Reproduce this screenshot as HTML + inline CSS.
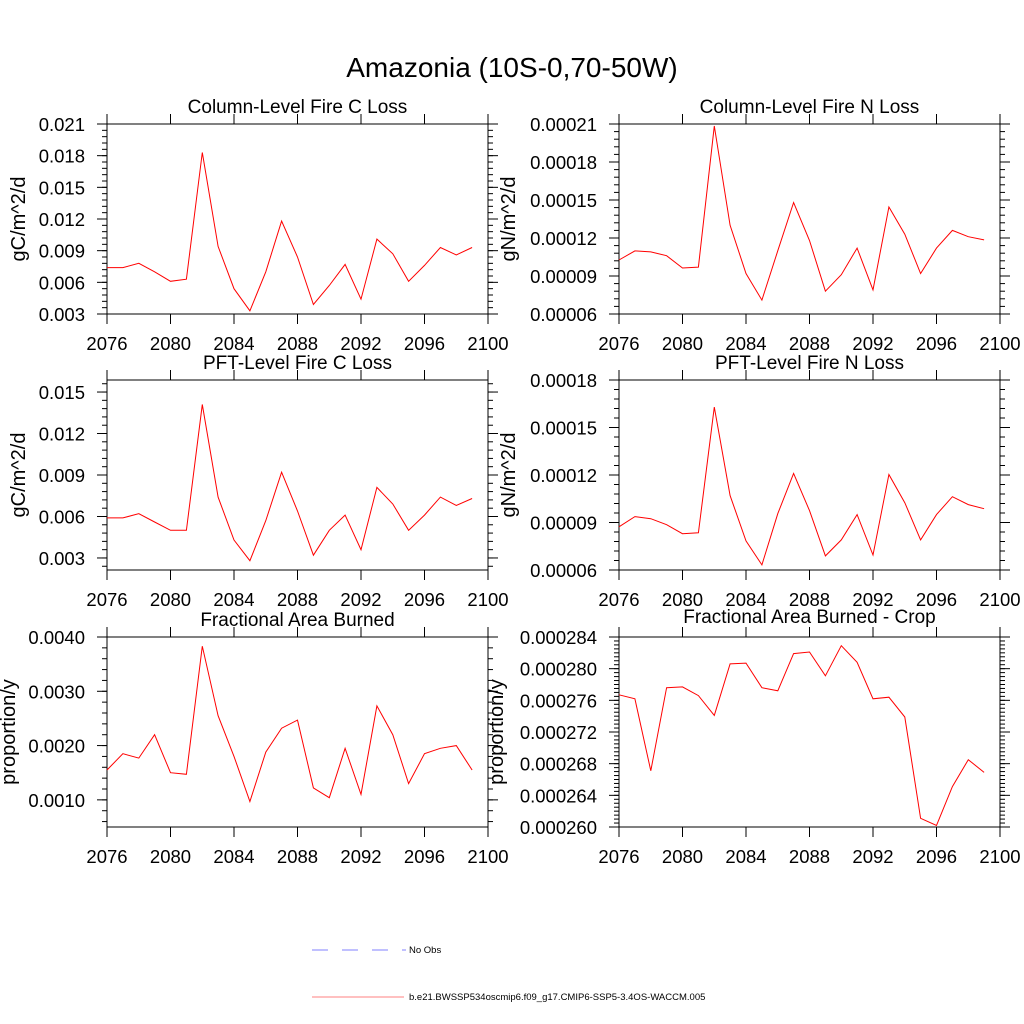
<!DOCTYPE html>
<html><head><meta charset="utf-8"><style>
html,body{margin:0;padding:0;background:#fff;}
svg{display:block;font-family:"Liberation Sans",sans-serif;}
</style></head><body>
<svg id="chart" width="1024" height="1024" viewBox="0 0 1024 1024" xmlns="http://www.w3.org/2000/svg">
<rect width="1024" height="1024" fill="#fff"/>
<text x="512" y="77" font-size="28" text-anchor="middle">Amazonia (10S-0,70-50W)</text>
<g>
<line x1="312" y1="950" x2="406" y2="950" stroke="#8080ff" stroke-width="1" stroke-dasharray="16,14"/>
<text x="409" y="953" font-size="9.5">No Obs</text>
<line x1="312" y1="997" x2="404" y2="997" stroke="#ff8080" stroke-width="1"/>
<text x="409" y="1000" font-size="9.5">b.e21.BWSSP534oscmip6.f09_g17.CMIP6-SSP5-3.4OS-WACCM.005</text>
</g>
</svg>
<script>
const years = [2076,2077,2078,2079,2080,2081,2082,2083,2084,2085,2086,2087,2088,2089,2090,2091,2092,2093,2094,2095,2096,2097,2098,2099];
const xTicks = [2076,2080,2084,2088,2092,2096,2100];
const colCLoss = [0.0074,0.0074,0.0078,0.0070,0.0061,0.0063,0.0183,0.0094,0.0054,0.0033,0.0070,0.0118,0.0084,0.0039,0.0057,0.0077,0.0044,0.0101,0.0087,0.0061,0.0076,0.0093,0.0086,0.0093];
const colNLoss = [0.0001026,0.0001098,0.000109,0.000106,0.0000963,0.000097,0.0002084,0.00013,0.000092,0.000071,0.00011,0.000148,0.000118,0.000078,0.000091,0.000112,0.000079,0.0001445,0.000123,0.000092,0.000112,0.000126,0.000121,0.0001185];
const pftCLoss = [0.0059,0.0059,0.0062,0.0056,0.0050,0.0050,0.0141,0.0074,0.0043,0.0028,0.0057,0.0092,0.0064,0.0032,0.0050,0.0061,0.0036,0.0081,0.0069,0.0050,0.0061,0.0074,0.0068,0.0073];
const pftNLoss = [0.0000873,0.0000937,0.0000924,0.0000886,0.0000829,0.0000835,0.0001629,0.000107,0.0000784,0.0000632,0.0000956,0.000121,0.0000975,0.0000689,0.000079,0.000095,0.0000695,0.0001203,0.0001025,0.000079,0.000095,0.0001063,0.0001013,0.0000987];
const areaBurned = [0.00155,0.00185,0.00177,0.0022,0.0015,0.00147,0.00383,0.00255,0.0018,0.00097,0.00188,0.00232,0.00247,0.00122,0.00104,0.00195,0.0011,0.00273,0.0022,0.0013,0.00185,0.00195,0.0020,0.00155];
const areaBurnedCrop = [0.0002767,0.0002762,0.0002671,0.0002776,0.0002777,0.0002766,0.0002741,0.0002806,0.0002807,0.0002776,0.0002772,0.0002819,0.0002821,0.0002791,0.0002829,0.0002808,0.0002762,0.0002764,0.0002739,0.0002611,0.0002602,0.0002651,0.0002685,0.0002669];
const yTicks1 = ["0.003","0.006","0.009","0.012","0.015","0.018","0.021"];
const yTicks2 = ["0.00006","0.00009","0.00012","0.00015","0.00018","0.00021"];
const yTicks3 = ["0.003","0.006","0.009","0.012","0.015"];
const yTicks4 = ["0.00006","0.00009","0.00012","0.00015","0.00018"];
const yTicks5 = ["0.0010","0.0020","0.0030","0.0040"];
const yTicks6 = ["0.000260","0.000264","0.000268","0.000272","0.000276","0.000280","0.000284"];

const NS="http://www.w3.org/2000/svg";
const svg=document.getElementById('chart');
function mk(tag,attrs,parent){const e=document.createElementNS(NS,tag);for(const k in attrs)e.setAttribute(k,attrs[k]);(parent||svg).appendChild(e);return e;}

const panels=[
 {name:'column-fire-c-loss',title:'Column-Level Fire C Loss',ytitle:'gC/m^2/d',x0:107,y0:124,ymin:0.003,ymax:0.021,ticks:yTicks1,minor:0.0006,data:colCLoss,titleY:113,yx:18},
 {name:'column-fire-n-loss',title:'Column-Level Fire N Loss',ytitle:'gN/m^2/d',x0:619,y0:124,ymin:0.00006,ymax:0.00021,ticks:yTicks2,minor:0.000006,data:colNLoss,titleY:113,yx:508},
 {name:'pft-fire-c-loss',title:'PFT-Level Fire C Loss',ytitle:'gC/m^2/d',x0:107,y0:380,ymin:0.00213,ymax:0.01587,ticks:yTicks3,minor:0.0006,data:pftCLoss,titleY:369,yx:18},
 {name:'pft-fire-n-loss',title:'PFT-Level Fire N Loss',ytitle:'gN/m^2/d',x0:619,y0:380,ymin:0.00006,ymax:0.00018,ticks:yTicks4,minor:0.000006,data:pftNLoss,titleY:369,yx:508},
 {name:'fractional-area-burned',title:'Fractional Area Burned',ytitle:'proportion/y',x0:107,y0:637,ymin:0.0005,ymax:0.0040,ticks:yTicks5,minor:0.0002,data:areaBurned,titleY:626,yx:8},
 {name:'fractional-area-burned-crop',title:'Fractional Area Burned - Crop',ytitle:'proportion/y',x0:619,y0:637,ymin:0.000260,ymax:0.000284,ticks:yTicks6,minor:0.0000005,data:areaBurnedCrop,titleY:623,yx:496}
];
const W=381,H=190;
panels.forEach(p=>{
 const g=mk('g',{});
 
 
 const xs=v=>p.x0+(v-2076)/(2100-2076)*W;
 const ys=v=>p.y0+H-(v-p.ymin)/(p.ymax-p.ymin)*H;
 const r=mk('rect',{x:p.x0,y:p.y0,width:W,height:H,fill:'none',stroke:'#000','stroke-width':1},g);
 
 
 xTicks.forEach(t=>{
  const x=xs(t);
  mk('line',{x1:x,y1:p.y0+H,x2:x,y2:p.y0+H+10,stroke:'#000'},g);
  mk('line',{x1:x,y1:p.y0,x2:x,y2:p.y0-10,stroke:'#000'},g);
  const tx=mk('text',{x:x,y:p.y0+H+36,'font-size':18.5,'text-anchor':'middle'},g);
  tx.textContent=t;
  
  
 });
 const start=Math.ceil(p.ymin/p.minor-1e-6);
 for(let k=start;k*p.minor<=p.ymax+1e-12;k++){
  const y=ys(k*p.minor);
  if(y<p.y0-0.5||y>p.y0+H+0.5)continue;
  mk('line',{x1:p.x0,y1:y,x2:p.x0-5,y2:y,stroke:'#000'},g);
  mk('line',{x1:p.x0+W,y1:y,x2:p.x0+W+5,y2:y,stroke:'#000'},g);
 }
 p.ticks.forEach(t=>{
  const y=ys(parseFloat(t));
  mk('line',{x1:p.x0,y1:y,x2:p.x0-10,y2:y,stroke:'#000'},g);
  mk('line',{x1:p.x0+W,y1:y,x2:p.x0+W+10,y2:y,stroke:'#000'},g);
  const tx=mk('text',{x:p.x0-22,y:y+7,'font-size':18.5,'text-anchor':'end'},g);
  tx.textContent=t;
  
  
 });
 const tt=mk('text',{x:p.x0+W/2,y:p.titleY,'font-size':19,'text-anchor':'middle'},g);
 tt.textContent=p.title;
 
 
 const yx=p.yx+7;
 const yt=mk('text',{x:yx,y:p.y0+H/2,'font-size':20,'text-anchor':'middle',transform:`rotate(-90 ${yx} ${p.y0+H/2})`},g);
 yt.textContent=p.ytitle;
 
 
 const pts=p.data.map((v,i)=>xs(years[i]).toFixed(1)+','+ys(v).toFixed(1)).join(' ');
 const pl=mk('polyline',{points:pts,fill:'none',stroke:'#ff0000','stroke-width':1},g);
 
 
});
</script>
</body></html>
